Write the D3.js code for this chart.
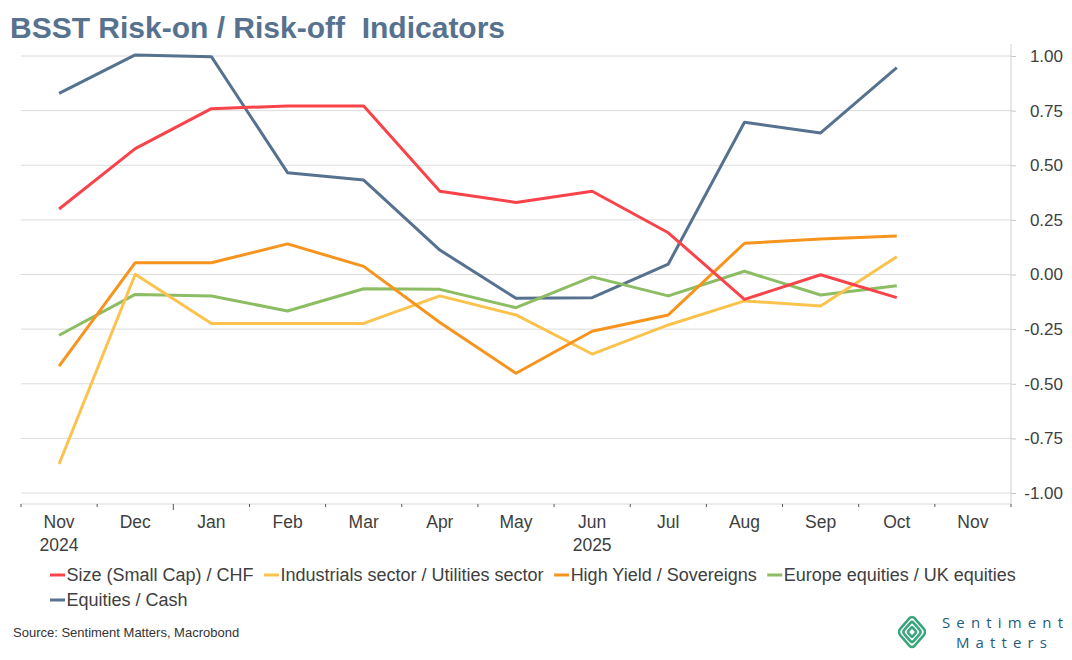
<!DOCTYPE html>
<html>
<head>
<meta charset="utf-8">
<script src="https://cdn.jsdelivr.net/npm/d3@7"></script>
<style>
  body { margin: 0; background: #fff; }
  svg { display: block; font-family: "Liberation Sans", Arial, sans-serif; }
</style>
</head>
<body>
<div id="chart"></div>
<script>
// 月份 (最後一個 Nov 沒有資料)
const months = ["Nov", "Dec", "Jan", "Feb", "Mar", "Apr", "May", "Jun", "Jul", "Aug", "Sep", "Oct", "Nov"];
const yearLabels = ["2024", "", "", "", "", "", "", "2025", "", "", "", "", ""];
const yTicks = [1, 0.75, 0.5, 0.25, 0, -0.25, -0.5, -0.75, -1];

const sizeCHF = [0.30, 0.576, 0.759, 0.771, 0.771, 0.381, 0.330, 0.381, 0.191, -0.114, -0.001, -0.106];
const industrials = [-0.867, 0.001, -0.224, -0.224, -0.224, -0.098, -0.185, -0.364, -0.231, -0.121, -0.144, 0.081];
const highYield = [-0.419, 0.054, 0.054, 0.140, 0.037, -0.220, -0.452, -0.260, -0.185, 0.143, 0.162, 0.176];
const europeUK = [-0.278, -0.091, -0.098, -0.167, -0.065, -0.068, -0.152, -0.011, -0.098, 0.015, -0.094, -0.051];
const equitiesCash = [0.829, 1.005, 0.997, 0.466, 0.432, 0.112, -0.109, -0.106, 0.048, 0.697, 0.648, 0.947];

const seriesNames = ["Size (Small Cap) / CHF", "Industrials sector / Utilities sector", "High Yield / Sovereigns", "Europe equities / UK equities", "Equities / Cash"];
const seriesColors = ["#f9434b", "#fbc34e", "#f7941e", "#8dbd63", "#56728f"];
const seriesValues = [sizeCHF, industrials, highYield, europeUK, equitiesCash];
// 繪製順序 (藍線在最下面)
const drawOrder = [4, 3, 1, 2, 0];

const W = 1072, H = 660;
const svg = d3.select("#chart").append("svg")
  .attr("width", W).attr("height", H);

// 標題 (保留兩個空格)
svg.append("text")
  .attr("x", 10).attr("y", 38)
  .attr("font-size", 30).attr("font-weight", "bold")
  .attr("fill", "#56728f")
  .style("white-space", "pre")
  .text("BSST Risk-on / Risk-off  Indicators");

const plotLeft = 21, plotRight = 1011, plotTop = 56, plotBottom = 493, axisY = 504;

const x = d3.scaleBand().domain(d3.range(months.length)).range([plotLeft, plotRight]).padding(0);
const y = d3.scaleLinear().domain([-1, 1]).range([plotBottom, plotTop]);

// 格線
svg.append("g").selectAll("line")
  .data(yTicks)
  .enter().append("line")
  .attr("x1", plotLeft).attr("x2", plotRight)
  .attr("y1", (d) => y(d)).attr("y2", (d) => y(d))
  .attr("stroke", "#dcdcdc").attr("stroke-width", 1);

// 右側 y 軸
const yAxis = svg.append("g")
  .attr("transform", `translate(${plotRight},0)`)
  .call(d3.axisRight(y).tickValues(yTicks).tickSize(5).tickPadding(4).tickFormat(d3.format(".2f")));
yAxis.select(".domain").remove();
yAxis.append("line").attr("x1", 0).attr("x2", 0).attr("y1", 44).attr("y2", axisY).attr("stroke", "#d0d0d0");
yAxis.selectAll(".tick line").attr("stroke", "#c8c8c8");
yAxis.selectAll(".tick text")
  .attr("font-size", 17).attr("fill", "#404040")
  .attr("font-family", "Liberation Sans, Arial, sans-serif")
  .attr("text-anchor", "end").attr("x", 52)
  .text((d) => d3.format(".2f")(d).replace("−", "-"));

// x 軸
const xg = svg.append("g");
xg.append("line").attr("x1", plotLeft).attr("x2", plotRight).attr("y1", axisY).attr("y2", axisY)
  .attr("stroke", "#d9d9d9");
xg.selectAll(".sep")
  .data(d3.range(months.length + 1))
  .enter().append("line")
  .attr("x1", (i) => plotLeft + i * x.bandwidth()).attr("x2", (i) => plotLeft + i * x.bandwidth())
  .attr("y1", axisY).attr("y2", (i) => axisY + (i === 2 ? 6 : 3))
  .attr("stroke", "#555");
xg.selectAll(".mlab")
  .data(months)
  .enter().append("text")
  .attr("x", (d, i) => x(i) + x.bandwidth() / 2)
  .attr("y", 528)
  .attr("text-anchor", "middle").attr("font-size", 17.5).attr("fill", "#404040")
  .text((d) => d);
xg.selectAll(".ylab")
  .data(yearLabels)
  .enter().append("text")
  .attr("x", (d, i) => x(i) + x.bandwidth() / 2)
  .attr("y", 551)
  .attr("text-anchor", "middle").attr("font-size", 17.5).attr("fill", "#404040")
  .text((d) => d);

// 線條
const line = d3.line()
  .x((d, i) => x(i) + x.bandwidth() / 2)
  .y((d) => y(d));
svg.append("g").selectAll("path")
  .data(drawOrder)
  .enter().append("path")
  .attr("d", (k) => line(seriesValues[k]))
  .attr("fill", "none")
  .attr("stroke", (k) => seriesColors[k])
  .attr("stroke-width", 3)
  .attr("stroke-linejoin", "round");

// 圖例
const legend = svg.append("g");
const rows = [[0, 1, 2, 3], [4]];
rows.forEach((row, r) => {
  let cx = 50;
  const ly = 575 + r * 25;
  row.forEach((k) => {
    legend.append("line")
      .attr("x1", cx).attr("x2", cx + 15).attr("y1", ly).attr("y2", ly)
      .attr("stroke", seriesColors[k]).attr("stroke-width", 3);
    const t = legend.append("text")
      .attr("x", cx + 16.5).attr("y", ly + 6)
      .attr("font-size", 18).attr("fill", "#404040")
      .text(seriesNames[k]);
    cx += 16.5 + t.node().getComputedTextLength() + 10.5;
  });
});

// 資料來源
svg.append("text")
  .attr("x", 13).attr("y", 637)
  .attr("font-size", 13).attr("fill", "#333")
  .text("Source: Sentiment Matters, Macrobond");

// Logo
const logo = svg.append("g").attr("transform", "translate(912,632) scale(1,1.15)");
[14.5, 9.5, 4.5].forEach((s) => {
  logo.append("rect")
    .attr("x", -s / Math.SQRT2).attr("y", -s / Math.SQRT2)
    .attr("width", s * Math.SQRT2).attr("height", s * Math.SQRT2)
    .attr("rx", s * 0.25)
    .attr("transform", "rotate(45)")
    .attr("fill", "none").attr("stroke", "#3aa57d").attr("stroke-width", 2.4);
});
svg.append("text")
  .attr("x", 942).attr("y", 628)
  .attr("font-size", 15).attr("fill", "#1f5d80")
  .attr("font-family", "Open Sans, sans-serif")
  .attr("textLength", 121).attr("lengthAdjust", "spacing")
  .text("Sentiment");
svg.append("text")
  .attr("x", 956).attr("y", 648)
  .attr("font-size", 15).attr("fill", "#1f5d80")
  .attr("font-family", "Open Sans, sans-serif")
  .attr("textLength", 91).attr("lengthAdjust", "spacing")
  .text("Matters");
</script>
</body>
</html>
